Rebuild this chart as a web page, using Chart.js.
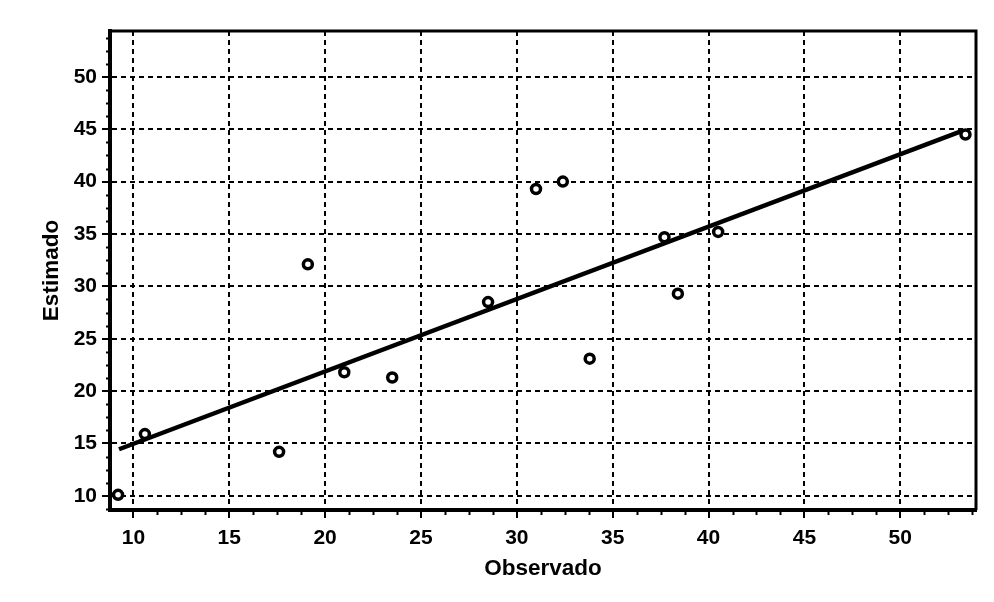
<!DOCTYPE html>
<html>
<head>
	<title>Observado vs Estimado</title>
	<script src="https://cdn.jsdelivr.net/npm/chart.js@4.4.0/dist/chart.umd.min.js"></script>
	<style>
		body { margin: 0; background: #fff; }
	</style>
</head>
<body>
	<canvas id="myChart" width="994" height="602"></canvas>
	<script>
		// values
		const observado = [9.2, 10.6, 17.6, 19.1, 21.0, 23.5, 28.5, 31.0, 32.4, 33.8, 37.7, 38.4, 40.5, 53.4];
		const estimado = [10.1, 15.9, 14.2, 32.1, 21.8, 21.3, 28.5, 39.3, 40.0, 23.1, 34.7, 29.3, 35.2, 44.5];
		const lineX = [9.25, 53.3];
		const lineY = [14.45, 44.9];
		const xTicks = [10, 15, 20, 25, 30, 35, 40, 45, 50];
		const yTicks = [10, 15, 20, 25, 30, 35, 40, 45, 50];

		const FONT = "'Liberation Sans', Arial, sans-serif";

		const points = observado.map((x, i) => ({ x: x, y: estimado[i] }));
		const linePts = lineX.map((x, i) => ({ x: x, y: lineY[i] }));

		// small ticks between the labelled ones, plus top/right frame
		const frameAndMinor = {
			id: "frameAndMinor",
			beforeDatasetsDraw(chart) {
				const { ctx, chartArea: a, scales: { x, y } } = chart;
				ctx.save();
				ctx.strokeStyle = "#000";
				ctx.lineWidth = 2;
				ctx.beginPath();
				for (let v = 8.75; v <= x.max; v += 1.25) {
					if (v < x.min || v % 5 === 0) continue;
					const px = Math.round(x.getPixelForValue(v)) + 0.5;
					ctx.moveTo(px, a.bottom);
					ctx.lineTo(px, a.bottom + 5);
				}
				for (let v = 8.75; v <= y.max; v += 1.25) {
					if (v < y.min || v % 5 === 0) continue;
					const py = Math.round(y.getPixelForValue(v)) + 0.5;
					ctx.moveTo(a.left, py);
					ctx.lineTo(a.left - 4, py);
				}
				ctx.stroke();
				ctx.lineWidth = 3;
				ctx.beginPath();
				ctx.moveTo(a.left, a.top);
				ctx.lineTo(a.right, a.top);
				ctx.lineTo(a.right, a.bottom);
				ctx.stroke();
				ctx.restore();
			}
		};

		new Chart("myChart", {
			type: "scatter",
			data: {
				datasets: [{
					data: points,
					pointStyle: "circle",
					pointRadius: 4.5,
					pointBorderWidth: 3.5,
					borderColor: "#000",
					backgroundColor: "#fff"
				}, {
					type: "line",
					data: linePts,
					borderColor: "#000",
					borderWidth: 4.5,
					pointRadius: 0,
					fill: false
				}]
			},
			options: {
				responsive: false,
				animation: false,
				layout: { padding: { top: 31, right: 18, left: 0, bottom: 0 } },
				plugins: {
					legend: { display: false },
					tooltip: { enabled: false }
				},
				scales: {
					x: {
						type: "linear",
						min: 8.78,
						max: 53.95,
						afterBuildTicks: s => { s.ticks = xTicks.map(v => ({ value: v })); },
						afterFit: s => { s.height = 92; },
						grid: { color: "#000", lineWidth: 2, tickLength: 8, tickColor: "#000", tickWidth: 2 },
						border: { display: true, color: "#000", width: 4, dash: [5, 4] },
						ticks: { color: "#000", font: { family: FONT, size: 21, weight: "bold" }, padding: 8, maxRotation: 0 },
						title: {
							display: true, text: "Observado", color: "#000",
							font: { family: FONT, size: 22.5, weight: "bold" },
							padding: { top: 0, bottom: 20 }
						}
					},
					y: {
						type: "linear",
						min: 8.65,
						max: 54.38,
						afterBuildTicks: s => { s.ticks = yTicks.map(v => ({ value: v })); },
						afterFit: s => { s.width = 110; },
						grid: { color: "#000", lineWidth: 2, tickLength: 8, tickColor: "#000", tickWidth: 2 },
						border: { display: true, color: "#000", width: 4, dash: [5, 4] },
						ticks: { color: "#000", font: { family: FONT, size: 21, weight: "bold" }, padding: 5 },
						title: {
							display: true, text: "Estimado", color: "#000",
							font: { family: FONT, size: 22.5, weight: "bold" },
							padding: { top: 38, bottom: 0 }
						}
					}
				}
			},
			plugins: [frameAndMinor]
		});
	</script>
</body>
</html>
